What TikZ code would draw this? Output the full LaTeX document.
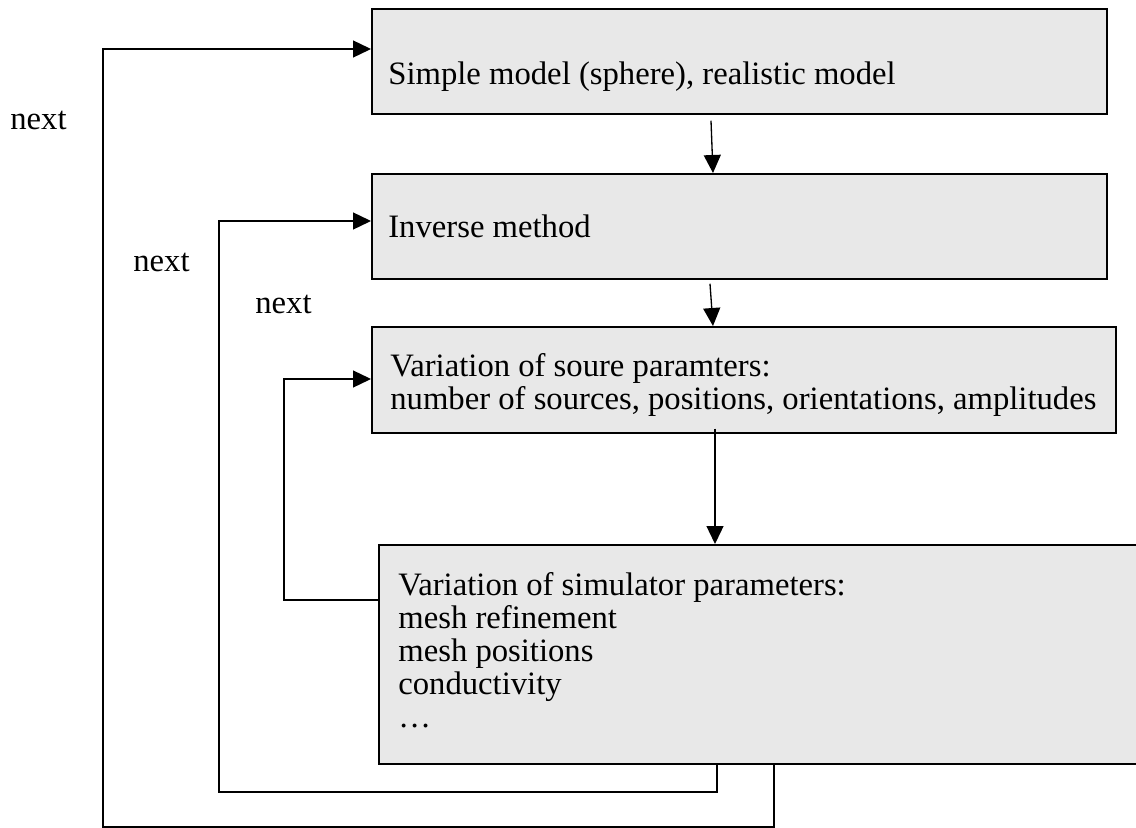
\documentclass[tikz,border=0pt]{standalone}
\usepackage{fontspec}
\setmainfont{Liberation Serif}
\usetikzlibrary{arrows.meta,calc}
\definecolor{boxgray}{RGB}{232,232,232}
\tikzset{
  box/.style={draw, line width=1pt, fill=boxgray, rectangle, inner sep=0pt, anchor=north west},
  txt/.style={inner sep=0pt, anchor=base west, align=left, font=\fontsize{18.6}{18.7}\selectfont},
  arr/.style={line width=0.75pt, -{Triangle[length=0.36cm,width=0.34cm]}},
}
\begin{document}
\begin{tikzpicture}[x=0.02cm,y=-0.02cm]
  \clip (0,0) rectangle (1136,828);
  \fill[white] (0,0) rectangle (1136,828);

  % process boxes
  \node[box, minimum width=14.7cm,  minimum height=2.1cm]  (b1) at (371,8)   {};
  \node[box, minimum width=14.7cm,  minimum height=2.1cm]  (b2) at (371,173) {};
  \node[box, minimum width=14.88cm, minimum height=2.12cm] (b3) at (371,326) {};
  \node[box, minimum width=15.6cm,  minimum height=4.38cm] (b4) at (378,544) {};

  % box texts (multi-line nodes are placed by the baseline of their last line)
  \node[txt] (t1) at (388,85)  {Simple model (sphere), realistic model};
  \node[txt] (t2) at (388,237) {Inverse method};
  \node[txt] (t3) at (390,409) {Variation of soure paramters:\\number of sources, positions, orientations, amplitudes};
  \node[txt] (t4) at (398,727) {Variation of simulator parameters:\\mesh refinement\\mesh positions\\conductivity\\…};

  % loop labels
  \node[txt] (n1) at (10,130)  {next};
  \node[txt] (n2) at (133,271) {next};
  \node[txt] (n3) at (255,313) {next};

  % downward flow
  \draw[arr] ($(b1.south west)+(340,6)$) -- ($(b2.north west)+(342,0)$);
  \draw[arr] ($(b2.south west)+(339,4)$) -- ($(b3.north west)+(342,0)$);
  \draw[arr] ($(b3.south west)+(344,-5)$) -- ($(b4.north west)+(337,0)$);

  % feedback loops
  \coordinate (o1) at (774,827);
  \coordinate (c1) at (103,49);
  \coordinate (o2) at (717,792);
  \coordinate (c2) at (219,221);
  \coordinate (i3) at (284,600);
  \coordinate (c3) at (284,379);
  \draw[arr] (b4.south west -| o1) -- (o1) -| (c1) -- (b1.west |- c1);
  \draw[arr] (b4.south west -| o2) -- (o2) -| (c2) -- (b2.west |- c2);
  \draw[arr] (b4.west |- i3) -- (i3) -- (c3) -- (b3.west |- c3);
\end{tikzpicture}
\end{document}
